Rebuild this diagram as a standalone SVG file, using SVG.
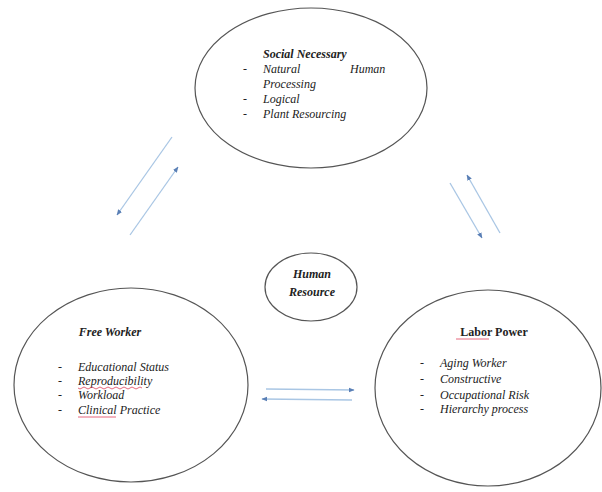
<svg xmlns="http://www.w3.org/2000/svg" width="602" height="492" viewBox="0 0 602 492">
<style>
.node{fill:#fff;stroke:#555;stroke-width:1.2}
.t{font-family:"Liberation Serif","Times New Roman","DejaVu Serif",serif;font-size:12px;font-style:italic;fill:#222}
.b{font-weight:bold}
.n{font-style:normal}
.c{stroke:#a9c6e4;stroke-width:1.3;fill:none;marker-end:url(#ah)}
.sq{stroke:#e0405a;stroke-width:0.8;fill:none}
</style>
<defs>
<marker id="ah" viewBox="0 0 10 10" refX="9" refY="5" markerWidth="6" markerHeight="6" orient="auto" markerUnits="userSpaceOnUse">
<path d="M0,1 L10,5 L0,9 z" fill="#5a7fb5"/>
</marker>
</defs>
<rect width="602" height="492" fill="#fff"/>
<g id="connectors">
<line class="c" x1="172" y1="137" x2="117" y2="215"/>
<line class="c" x1="130" y1="235" x2="178" y2="167"/>
<line class="c" x1="500" y1="233" x2="467" y2="175"/>
<line class="c" x1="450" y1="183" x2="482" y2="238"/>
<line class="c" x1="266" y1="389" x2="354" y2="390"/>
<line class="c" x1="352" y1="400" x2="262" y2="399"/>
</g>
<g id="social-necessary">
<ellipse class="node" cx="311" cy="88" rx="116" ry="80"/>
<text class="t b" x="263" y="58">Social Necessary</text>
<text class="t" x="243" y="73">-</text>
<text class="t" x="263" y="73">Natural</text>
<text class="t" x="350" y="73">Human</text>
<text class="t" x="263" y="88">Processing</text>
<text class="t" x="243" y="103">-</text>
<text class="t" x="263" y="103">Logical</text>
<text class="t" x="243" y="118">-</text>
<text class="t" x="263" y="118">Plant Resourcing</text>
</g>
<g id="human-resource">
<ellipse class="node" cx="311" cy="287" rx="46" ry="34"/>
<text class="t b" x="312" y="278" text-anchor="middle">Human</text>
<text class="t b" x="312" y="296" text-anchor="middle">Resource</text>
</g>
<g id="free-worker">
<ellipse class="node" cx="131" cy="385" rx="117" ry="97"/>
<text class="t b" x="110" y="336" text-anchor="middle">Free Worker</text>
<text class="t" x="58" y="371">-</text>
<text class="t" x="78" y="371">Educational Status</text>
<text class="t" x="58" y="385">-</text>
<text class="t" x="78" y="385">Reproducibility</text>
<text class="t" x="58" y="399">-</text>
<text class="t" x="78" y="399">Workload</text>
<text class="t" x="58" y="414">-</text>
<text class="t" x="78" y="414">Clinical Practice</text>
<path class="sq" d="M78,388 q2,2 4,0 t4,0 t4,0 t4,0 t4,0 t4,0 t4,0 t4,0 t4,0 t4,0 t4,0 t4,0 t4,0 t4,0 t4,0 t4,0"/>
<line class="sq" x1="78" y1="417" x2="116" y2="417"/>
</g>
<g id="labor-power">
<ellipse class="node" cx="488" cy="388" rx="113" ry="98"/>
<text class="t b n" x="494" y="336" text-anchor="middle">Labor Power</text>
<line class="sq" x1="456" y1="339" x2="489" y2="339"/>
<text class="t" x="420" y="367">-</text>
<text class="t" x="440" y="367">Aging Worker</text>
<text class="t" x="420" y="383">-</text>
<text class="t" x="440" y="383">Constructive</text>
<text class="t" x="420" y="399">-</text>
<text class="t" x="440" y="399">Occupational Risk</text>
<text class="t" x="420" y="413">-</text>
<text class="t" x="440" y="413">Hierarchy process</text>
</g>
</svg>
